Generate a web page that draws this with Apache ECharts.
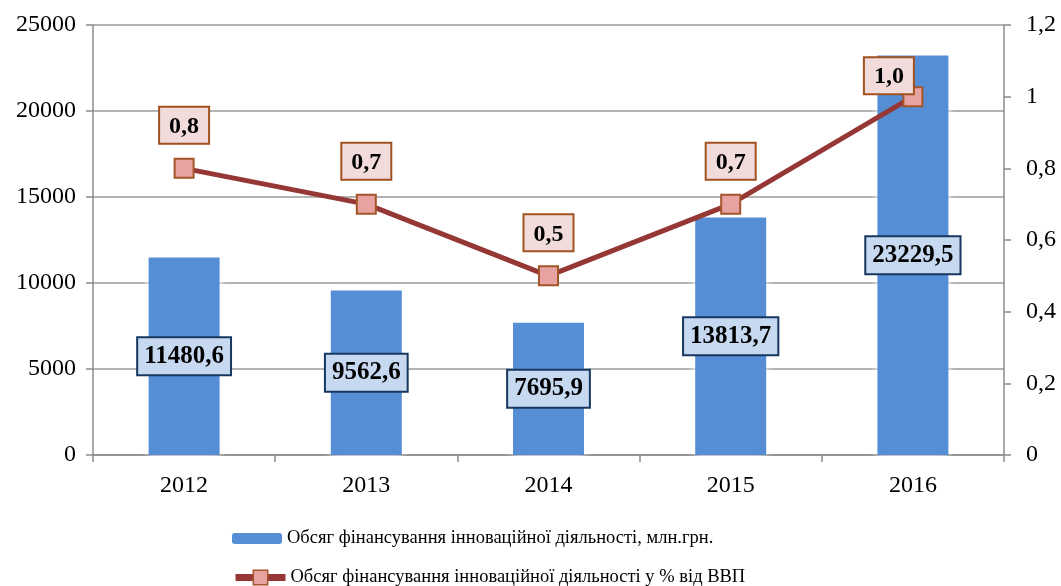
<!DOCTYPE html>
<html>
<head>
<meta charset="utf-8">
<script src="https://cdn.jsdelivr.net/npm/echarts@6/dist/echarts.min.js"></script>
<style>
  html, body { margin: 0; padding: 0; background: #fff; }
  #chart { width: 1061px; height: 586px; }
</style>
</head>
<body>
<div id="chart"></div>
<script>
// Data
const years = ['2012', '2013', '2014', '2015', '2016'];
const fundingMln = [11480.6, 9562.6, 7695.9, 13813.7, 23229.5];
const fundingPctGdp = [0.8, 0.7, 0.5, 0.7, 1.0];
const barName = 'Обсяг фінансування інноваційної діяльності, млн.грн.';
const lineName = 'Обсяг фінансування інноваційної діяльності у % від ВВП';

const serif = '"Liberation Serif", "DejaVu Serif", serif';
const comma = v => String(v).replace('.', ',');
const axisGray = '#8c8c8c';

// the last line label sits left of its point, like in the original
const lineData = fundingPctGdp.map((v, i) =>
  i === fundingPctGdp.length - 1 ? { value: v, label: { offset: [-24, 22] } } : v
);

const legendText = { fontFamily: serif, fontSize: 18.5, color: '#000' };

const chart = echarts.init(document.getElementById('chart'), null, { renderer: 'canvas' });

chart.setOption({
  animation: false,
  backgroundColor: '#fff',
  textStyle: { fontFamily: serif, color: '#000' },
  grid: { left: 93, right: 57, top: 25, bottom: 131, containLabel: false },
  // two single-item legends, stacked like in the original
  legend: [
    {
      left: 232, top: 529, padding: 0,
      itemWidth: 50, itemHeight: 11,
      textStyle: legendText,
      data: [{ name: barName }]
    },
    {
      left: 232, top: 568, padding: 0,
      itemWidth: 50, itemHeight: 18,
      textStyle: legendText,
      data: [{
        name: lineName,
        lineStyle: { width: 7, color: '#953735' },
        itemStyle: { color: '#e6a3a1', borderColor: '#a5552a', borderWidth: 1.5 }
      }]
    }
  ],
  xAxis: {
    type: 'category',
    data: years,
    axisLine: { lineStyle: { color: axisGray, width: 1.5 } },
    axisTick: { show: true, length: 7, lineStyle: { color: axisGray, width: 1.5 } },
    axisLabel: { fontFamily: serif, fontSize: 24, color: '#000', margin: 19 }
  },
  yAxis: [
    {
      type: 'value',
      min: 0, max: 25000, interval: 5000,
      axisLine: { show: true, lineStyle: { color: axisGray, width: 1.5 } },
      axisTick: { show: true, length: 7, lineStyle: { color: axisGray, width: 1.5 } },
      axisLabel: { fontFamily: serif, fontSize: 24, color: '#000', margin: 17, formatter: v => String(v) },
      splitLine: { show: true, lineStyle: { color: '#9a9a9a', width: 1.5 } }
    },
    {
      type: 'value',
      min: 0, max: 1.2, interval: 0.2,
      position: 'right',
      axisLine: { show: true, lineStyle: { color: axisGray, width: 1.5 } },
      axisTick: { show: true, length: 7, lineStyle: { color: axisGray, width: 1.5 } },
      axisLabel: {
        fontFamily: serif, fontSize: 24, color: '#000', margin: 22,
        formatter: v => comma(Math.round(v * 10) / 10)
      },
      splitLine: { show: false }
    }
  ],
  series: [
    {
      name: barName,
      type: 'bar',
      data: fundingMln,
      barWidth: 71,
      itemStyle: {
        color: '#558ed5',
        shadowColor: '#ffffff',
        shadowBlur: 8
      },
      label: {
        show: true,
        position: 'inside',
        formatter: p => comma(p.value),
        fontFamily: serif,
        fontSize: 25,
        fontWeight: 'bold',
        color: '#000',
        backgroundColor: '#c6d9f1',
        borderColor: '#17375e',
        borderWidth: 2,
        padding: [7, 6, 4, 6]
      },
      z: 2
    },
    {
      name: lineName,
      type: 'line',
      yAxisIndex: 1,
      data: lineData,
      symbol: 'rect',
      symbolSize: 19,
      lineStyle: { color: '#953735', width: 5 },
      itemStyle: { color: '#e6a3a1', borderColor: '#a5552a', borderWidth: 2 },
      label: {
        show: true,
        position: 'top',
        distance: 15,
        formatter: p => comma(p.value.toFixed(1)),
        fontFamily: serif,
        fontSize: 24,
        fontWeight: 'bold',
        color: '#000',
        backgroundColor: '#f2dcdb',
        borderColor: '#a0521e',
        borderWidth: 2,
        padding: [7, 9, 4, 9]
      },
      z: 5
    }
  ]
});
</script>
</body>
</html>
